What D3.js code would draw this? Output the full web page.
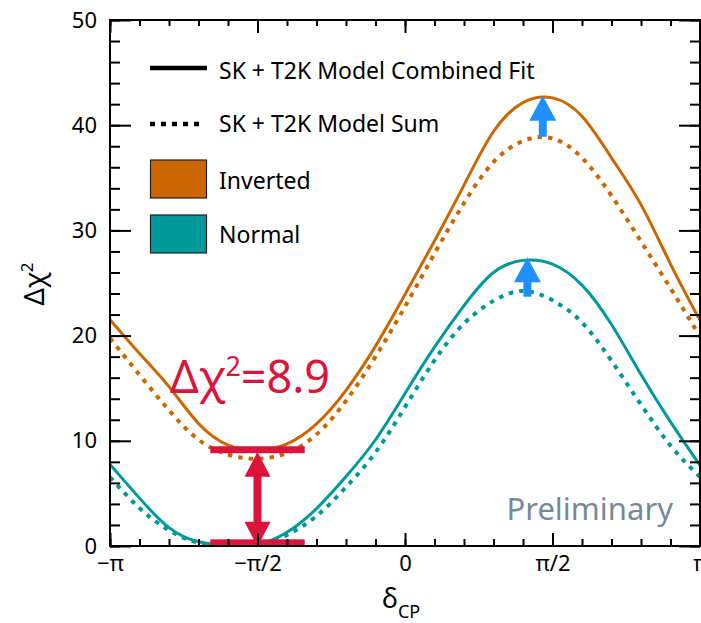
<!DOCTYPE html>
<html>
<head>
<meta charset="utf-8">
<script src="https://cdn.jsdelivr.net/npm/d3@7"></script>
<style>
  body { margin: 0; background: #fff; }
  svg { display: block; }
</style>
</head>
<body>
<div id="chart"></div>
<script>
// delta_CP in units of pi
const deltaOverPi = [-1, -0.9, -0.8, -0.7, -0.6, -0.5, -0.4, -0.3, -0.2, -0.1, 0,
                     0.1, 0.2, 0.3, 0.4, 0.5, 0.6, 0.7, 0.8, 0.9, 1];
// delta chi^2 curves
const normalFit   = [7.75, 4.55, 1.75, 0.4, 0.05, 0.15, 1.3, 3.55, 6.6, 10.1, 14.5,
                     18.9, 22.85, 26.0, 27.15, 26.8, 24.8, 21.05, 16.3, 11.8, 7.67];
const normalSum   = [6.55, 3.6, 1.5, 0.3, 0.02, 0.05, 1.05, 2.85, 5.6, 8.9, 13.2,
                     17.65, 21.15, 23.3, 24.25, 23.35, 21.25, 17.6, 13.45, 9.55, 6.56];
const invertedFit = [21.5, 18.3, 15.15, 11.65, 9.6, 9.1, 9.7, 11.6, 14.8, 19.0, 23.9,
                     29.0, 34.3, 39.4, 42.15, 42.6, 40.85, 36.9, 32.45, 26.8, 21.45];
const invertedSum = [19.75, 16.27, 12.9, 10.1, 8.7, 8.3, 8.85, 10.6, 13.8, 18.0, 22.75,
                     27.8, 32.6, 36.5, 38.5, 38.75, 36.9, 33.3, 28.95, 24.5, 19.9];

const xTickValues = [-1, -0.5, 0, 0.5, 1];
const xTickLabels = ["\u2212\u03c0", "\u2212\u03c0/2", "0", "\u03c0/2", "\u03c0"];
const yTickValues = [0, 10, 20, 30, 40, 50];

// blue arrows: sum peak -> fit peak
const peakShift = [
  {name: "Inverted", d: 0.467, from: 38.9, to: 42.8},
  {name: "Normal",   d: 0.415, from: 23.7, to: 27.45}
];
// red mass-ordering gap
const gapDelta = [-0.66, -0.34];
const gapValues = {inverted: 9.15, normal: 0.3, label: "8.9"};

const width = 701, height = 623;
const margin = {top: 20, right: 1, bottom: 77, left: 110};

const colors = {Inverted: "#cc6600", Normal: "#009999"};
const font = "'Noto Sans', 'Open Sans', sans-serif";

const x = d3.scaleLinear().domain([-1, 1]).range([margin.left, width - margin.right]);
const y = d3.scaleLinear().domain([0, 50]).range([height - margin.bottom, margin.top]);

const svg = d3.select("#chart").append("svg")
  .attr("width", width)
  .attr("height", height)
  .style("font-family", font);

svg.append("clipPath").attr("id", "plot")
  .append("rect")
  .attr("x", x(-1)).attr("y", y(50))
  .attr("width", x(1) - x(-1)).attr("height", y(0) - y(50));

// curves
const line = d3.line()
  .x((d, i) => x(deltaOverPi[i]))
  .y(d => y(d))
  .curve(d3.curveNatural);

const curves = [
  {values: invertedFit, color: colors.Inverted, dash: null},
  {values: invertedSum, color: colors.Inverted, dash: "4.5,6"},
  {values: normalFit, color: colors.Normal, dash: null},
  {values: normalSum, color: colors.Normal, dash: "4.5,6"}
];

svg.append("g")
  .attr("clip-path", "url(#plot)")
  .selectAll("path")
  .data(curves)
  .join("path")
  .attr("fill", "none")
  .attr("stroke", d => d.color)
  .attr("stroke-width", d => d.dash ? 4 : 3)
  .attr("stroke-dasharray", d => d.dash)
  .attr("d", d => line(d.values));

// blue arrows
const arrowPath = (cx, yBase, yTip, shaftW, headW, headL) => {
  const yNeck = yTip + headL;
  return `M${cx - shaftW / 2},${yBase} L${cx - shaftW / 2},${yNeck} L${cx - headW / 2},${yNeck}
          L${cx},${yTip} L${cx + headW / 2},${yNeck} L${cx + shaftW / 2},${yNeck}
          L${cx + shaftW / 2},${yBase} Z`;
};

svg.append("g")
  .selectAll("path")
  .data(peakShift)
  .join("path")
  .attr("fill", "#1e90ff")
  .attr("d", d => arrowPath(x(d.d), y(d.from), y(d.to), 8, 27, 25));

// red gap annotation
const red = "#dc143c";
const gap = svg.append("g").attr("fill", red);
[gapValues.inverted, gapValues.normal].forEach(v => {
  gap.append("rect")
    .attr("x", x(gapDelta[0]))
    .attr("y", y(v) - 3.5)
    .attr("width", x(gapDelta[1]) - x(gapDelta[0]))
    .attr("height", 7);
});
const gx = x((gapDelta[0] + gapDelta[1]) / 2);
const gTop = y(gapValues.inverted) + 2, gBot = y(gapValues.normal) + 4;
gap.append("rect").attr("x", gx - 4).attr("y", gTop + 20).attr("width", 8).attr("height", gBot - gTop - 40);
gap.append("path").attr("d", `M${gx},${gTop} L${gx - 13},${gTop + 25} L${gx + 13},${gTop + 25} Z`);
gap.append("path").attr("d", `M${gx},${gBot} L${gx - 13},${gBot - 25} L${gx + 13},${gBot - 25} Z`);

const gapText = svg.append("text")
  .attr("x", x(-0.797))
  .attr("y", y(14.5))
  .attr("fill", red)
  .attr("font-size", 45)
  .text("\u0394\u03c7");
gapText.append("tspan").attr("dy", -17).attr("font-size", 27).text("2");
gapText.append("tspan").attr("dy", 17).text("=" + gapValues.label);

// Preliminary
svg.append("text")
  .attr("x", 673)
  .attr("y", 520)
  .attr("text-anchor", "end")
  .attr("fill", "#778899")
  .attr("font-size", 31)
  .text("Preliminary");

// axes
const plotBottom = y(0), plotTop = y(50), plotLeft = x(-1), plotRight = x(1);
const minorX = d3.range(-10, 11).map(k => k / 10);
const minorY = d3.range(0, 51, 2);

function styleAxis(g) {
  g.select(".domain").remove();
  g.selectAll("line").attr("stroke", "#000").attr("stroke-width", 2);
  g.selectAll("text").attr("fill", "#000").attr("font-size", 22).attr("font-family", font);
}

svg.append("g").attr("transform", `translate(0,${plotBottom})`)
  .call(d3.axisBottom(x).tickValues(minorX).tickFormat("").tickSize(-7).tickSizeOuter(0)).call(styleAxis);
svg.append("g").attr("transform", `translate(0,${plotBottom})`)
  .call(d3.axisBottom(x).tickValues(xTickValues).tickFormat((d, i) => xTickLabels[i])
    .tickSize(-13).tickSizeOuter(0).tickPadding(9)).call(styleAxis);
svg.append("g").attr("transform", `translate(0,${plotTop})`)
  .call(d3.axisTop(x).tickValues(minorX).tickFormat("").tickSize(-6).tickSizeOuter(0)).call(styleAxis);
svg.append("g").attr("transform", `translate(0,${plotTop})`)
  .call(d3.axisTop(x).tickValues(xTickValues).tickFormat("").tickSize(-13).tickSizeOuter(0)).call(styleAxis);

svg.append("g").attr("transform", `translate(${plotLeft},0)`)
  .call(d3.axisLeft(y).tickValues(minorY).tickFormat("").tickSize(-10).tickSizeOuter(0)).call(styleAxis);
svg.append("g").attr("transform", `translate(${plotLeft},0)`)
  .call(d3.axisLeft(y).tickValues(yTickValues).tickFormat(d3.format("d"))
    .tickSize(-21).tickSizeOuter(0).tickPadding(13)).call(styleAxis);
svg.append("g").attr("transform", `translate(${plotRight},0)`)
  .call(d3.axisRight(y).tickValues(minorY).tickFormat("").tickSize(-10).tickSizeOuter(0)).call(styleAxis);
svg.append("g").attr("transform", `translate(${plotRight},0)`)
  .call(d3.axisRight(y).tickValues(yTickValues).tickFormat("").tickSize(-21).tickSizeOuter(0)).call(styleAxis);

svg.append("rect")
  .attr("x", plotLeft).attr("y", plotTop)
  .attr("width", plotRight - plotLeft).attr("height", plotBottom - plotTop)
  .attr("fill", "none").attr("stroke", "#000").attr("stroke-width", 2);

// axis titles
const xTitle = svg.append("text")
  .attr("x", 382).attr("y", 608)
  .attr("font-size", 27)
  .text("\u03b4");
xTitle.append("tspan").attr("dy", 10).attr("font-size", 18).text("CP");

const yTitle = svg.append("text")
  .attr("transform", "translate(44,284) rotate(-90)")
  .attr("text-anchor", "middle")
  .attr("font-size", 27)
  .text("\u0394\u03c7");
yTitle.append("tspan").attr("dy", -11).attr("font-size", 17).text("2");

// legend
const legend = svg.append("g").attr("font-size", 23).attr("fill", "#000");
legend.append("line").attr("x1", 150).attr("x2", 207).attr("y1", 68).attr("y2", 68)
  .attr("stroke", "#000").attr("stroke-width", 4.5);
legend.append("text").attr("x", 219).attr("y", 79).text("SK + T2K Model Combined Fit");
legend.append("line").attr("x1", 150).attr("x2", 205).attr("y1", 124).attr("y2", 124)
  .attr("stroke", "#000").attr("stroke-width", 4.5).attr("stroke-dasharray", "5,6");
legend.append("text").attr("x", 219).attr("y", 132).text("SK + T2K Model Sum");

const boxes = [{name: "Inverted", y0: 160, base: 189}, {name: "Normal", y0: 215, base: 243}];
boxes.forEach(b => {
  legend.append("rect").attr("x", 150.5).attr("y", b.y0).attr("width", 56).attr("height", 38)
    .attr("fill", colors[b.name]).attr("stroke", "#222").attr("stroke-width", 1.2);
  legend.append("text").attr("x", 219).attr("y", b.base).text(b.name);
});
</script>
</body>
</html>
